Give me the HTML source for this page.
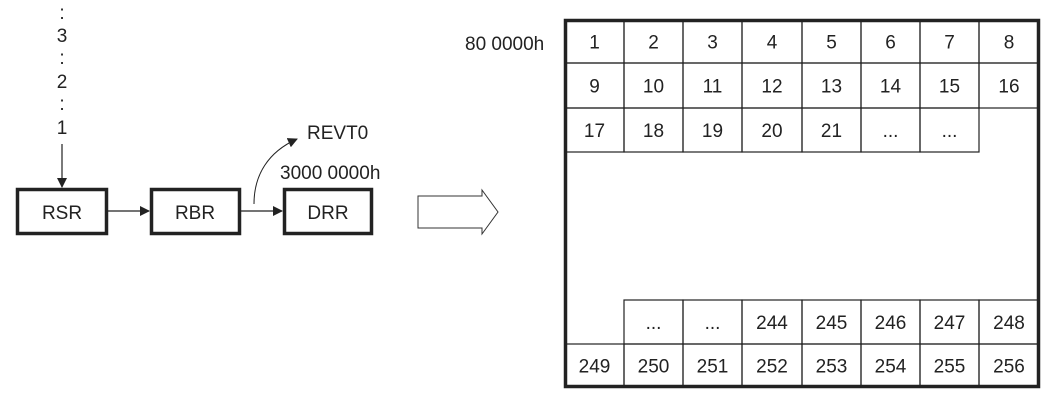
<!DOCTYPE html>
<html><head><meta charset="utf-8"><style>
body{margin:0;background:#fff;width:1053px;height:401px;overflow:hidden}
svg text{font-family:"Liberation Sans",sans-serif;font-size:19px;fill:#222}
</style></head><body>
<svg width="1053" height="401">
<defs><marker id="ah" markerWidth="10" markerHeight="10" refX="9" refY="5" orient="auto" markerUnits="userSpaceOnUse"><path d="M0,0 L10,5 L0,10 z" fill="#222"/></marker></defs>
<g text-anchor="middle">
<text x="62" y="19">:</text><text x="62" y="42">3</text><text x="62" y="64">:</text>
<text x="62" y="88">2</text><text x="62" y="110">:</text><text x="62" y="134">1</text>
</g>
<line x1="62" y1="144" x2="62" y2="187" stroke="#222" stroke-width="1.2" marker-end="url(#ah)"/>
<g><rect x="17.5" y="189.5" width="89" height="44" fill="none" stroke="#222" stroke-width="3.5"/><text x="62" y="219" text-anchor="middle">RSR</text></g>
<g><rect x="151.5" y="189.5" width="88" height="44" fill="none" stroke="#222" stroke-width="3.5"/><text x="195" y="219" text-anchor="middle">RBR</text></g>
<g><rect x="284.5" y="189.5" width="87" height="44" fill="none" stroke="#222" stroke-width="3.5"/><text x="328" y="219" text-anchor="middle">DRR</text></g>
<line x1="108" y1="211" x2="149" y2="211" stroke="#222" stroke-width="1.2" marker-end="url(#ah)"/>
<line x1="241" y1="211" x2="282" y2="211" stroke="#222" stroke-width="1.2" marker-end="url(#ah)"/>
<path d="M254,204 C254,175 268,152 297,139" fill="none" stroke="#222" stroke-width="1" marker-end="url(#ah)"/>
<text x="307" y="139">REVT0</text>
<text x="280" y="179">3000 0000h</text>
<path d="M418,196 L482,196 L482,190 L498,212 L482,234 L482,228 L418,228 Z" fill="none" stroke="#333" stroke-width="1"/>
<text x="465" y="50">80 0000h</text>
<g id="grid" stroke="#222" stroke-width="1.2" fill="none"></g>
<rect x="565.5" y="20.5" width="473" height="366" fill="none" stroke="#222" stroke-width="3.5"/>
</svg>
<script>
const cols=[565,624,683,742,802,861,920,979,1039];
const top3=[["1","2","3","4","5","6","7","8"],["9","10","11","12","13","14","15","16"],["17","18","19","20","21","...","..."]];
const topY=[20,63,108,152];
const bot=[[null,"...","...","244","245","246","247","248"],["249","250","251","252","253","254","255","256"]];
const botY=[300,344,387];
const g=document.getElementById('grid');const NS='http://www.w3.org/2000/svg';
function cell(c,y0,y1,t){
 const r=document.createElementNS(NS,'rect');
 r.setAttribute('x',cols[c]);r.setAttribute('y',y0);r.setAttribute('width',cols[c+1]-cols[c]);r.setAttribute('height',y1-y0);
 
 
 g.appendChild(r);
 const tx=document.createElementNS(NS,'text');
 tx.setAttribute('x',(cols[c]+cols[c+1])/2);tx.setAttribute('y',(y0+y1)/2+7);tx.setAttribute('text-anchor','middle');tx.setAttribute('stroke','none');
 
 
 tx.textContent=t;g.appendChild(tx);
}
top3.forEach((row,i)=>row.forEach((t,c)=>cell(c,topY[i],topY[i+1],t)));
bot.forEach((row,i)=>row.forEach((t,c)=>{if(t!==null)cell(c,botY[i],botY[i+1],t);}));
</script>
</body></html>
